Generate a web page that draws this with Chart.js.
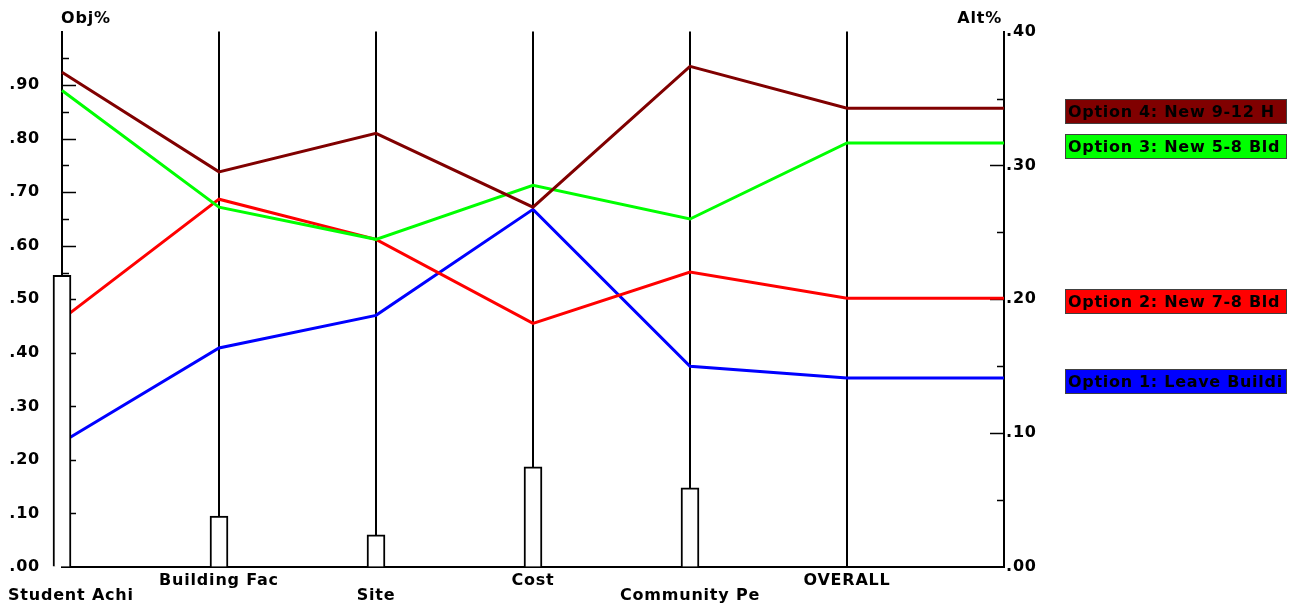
<!DOCTYPE html>
<html>
<head>
<meta charset="utf-8">
<title>Decision chart</title>
<script src="https://cdn.jsdelivr.net/npm/chart.js@4.4.0/dist/chart.umd.min.js"></script>
<style>
    html, body { margin: 0; padding: 0; background: #fff; }
    #wrap { width: 1290px; height: 603px; position: relative; }
</style>
</head>
<body>
<div id="wrap"><canvas id="decisionChart"></canvas></div>
<script>
// categories (objectives) along the bottom
const categories = ['Student Achi', 'Building Fac', 'Site', 'Cost', 'Community Pe', 'OVERALL'];
// objective weights (bars, left scale)
const objWeights = [0.545, 0.095, 0.060, 0.187, 0.148];
// alternative scores per objective (left scale), last is OVERALL
const option1 = [0.233, 0.409, 0.470, 0.668, 0.375, 0.353];
const option2 = [0.463, 0.687, 0.612, 0.455, 0.551, 0.502];
const option3 = [0.890, 0.672, 0.612, 0.713, 0.650, 0.792];
const option4 = [0.924, 0.738, 0.810, 0.672, 0.935, 0.857];
const optionNames = ['Option 1: Leave Buildi', 'Option 2: New 7-8 Bld', 'Option 3: New 5-8 Bld', 'Option 4: New 9-12 H'];
const optionColors = ['#0000ff', '#ff0000', '#00ff00', '#800000'];
// tick labels
const objTickLabels = ['.00', '.10', '.20', '.30', '.40', '.50', '.60', '.70', '.80', '.90', ''];
const altTickLabels = ['.00', '.10', '.20', '.30', '.40'];

const FONT_FAMILY = '"DejaVu Sans", sans-serif';
const LABEL_FONT = 'bold 16px ' + FONT_FAMILY;
const SPACING = '0.8px';

// x positions: the 6 objectives plus the right axis end point
const xLabels = [...categories, ''];
const extend = arr => [...arr, arr[arr.length - 1]];

const decorPlugin = {
    id: 'decor',
    beforeDraw(chart) {
        chart.ctx.letterSpacing = SPACING;
    },
    beforeDatasetsDraw(chart) {
        const { ctx, chartArea: a, scales } = chart;
        ctx.save();
        ctx.strokeStyle = '#000';
        ctx.lineWidth = 1.5;
        // inner ticks on the left axis
        for (let i = 1; i < 20; i++) {
            const y = Math.round(scales.y.getPixelForValue(i * 0.05)) + 0.5;
            const len = i % 2 === 0 ? 14 : 7;
            ctx.beginPath();
            ctx.moveTo(a.left, y);
            ctx.lineTo(a.left + len, y);
            ctx.stroke();
        }
        // inner ticks on the right axis
        for (let i = 1; i < 8; i++) {
            const y = Math.round(scales.y2.getPixelForValue(i * 5)) + 0.5;
            const len = i % 2 === 0 ? 14 : 7;
            ctx.beginPath();
            ctx.moveTo(a.right, y);
            ctx.lineTo(a.right - len, y);
            ctx.stroke();
        }
        ctx.restore();
    },
    afterDraw(chart) {
        const { ctx, chartArea: a, scales } = chart;
        ctx.save();
        ctx.letterSpacing = SPACING;
        ctx.font = LABEL_FONT;
        ctx.fillStyle = '#000';
        ctx.textBaseline = 'middle';

        // axis titles
        ctx.textAlign = 'left';
        ctx.fillText('Obj%', a.left - 1, 19);
        ctx.textAlign = 'right';
        ctx.fillText('Alt%', a.right - 2, 19);

        // staggered category labels
        ctx.textAlign = 'left';
        categories.forEach((c, i) => {
            const x = scales.x.getPixelForValue(i);
            const w = ctx.measureText(c).width;
            const left = Math.max(8, x - w / 2);
            const y = i % 2 === 0 ? a.bottom + 29 : a.bottom + 14;
            ctx.fillText(c, left, y);
        });

        // legend boxes at the overall value of each option
        const datasets = chart.data.datasets.filter(d => d.type === 'line');
        datasets.forEach(ds => {
            const last = ds.data[ds.data.length - 1];
            const yc = scales.y.getPixelForValue(last);
            const bx = 1065, by = Math.round(yc) - 9, bw = 222, bh = 25;
            ctx.fillStyle = ds.borderColor;
            ctx.fillRect(bx, by, bw, bh);
            ctx.strokeStyle = '#404040';
            ctx.lineWidth = 1;
            ctx.strokeRect(bx + 0.5, by + 0.5, bw - 1, bh - 1);
            ctx.save();
            ctx.beginPath();
            ctx.rect(bx + 1, by + 1, bw - 3, bh - 2);
            ctx.clip();
            ctx.fillStyle = '#000';
            ctx.font = 'bold 16px ' + FONT_FAMILY;
            ctx.letterSpacing = '0.7px';
            ctx.textAlign = 'left';
            ctx.fillText(ds.label, bx + 3, by + bh / 2 + 1);
            ctx.restore();
        });
        ctx.restore();
    }
};

const lineDatasets = [option4, option3, option2, option1].map((vals, k) => {
    const idx = 3 - k;
    return {
        type: 'line',
        label: optionNames[idx],
        data: extend(vals),
        borderColor: optionColors[idx],
        backgroundColor: optionColors[idx],
        borderWidth: 3,
        pointRadius: 0,
        tension: 0,
        fill: false,
        yAxisID: 'y',
        order: 1 + k
    };
});

const ctx = document.getElementById('decisionChart').getContext('2d');
new Chart(ctx, {
    type: 'line',
    data: {
        labels: xLabels,
        datasets: [
            {
                type: 'bar',
                label: 'Weight',
                data: objWeights,
                backgroundColor: '#ffffff',
                borderColor: '#000000',
                borderWidth: 2,
                barThickness: 18,
                yAxisID: 'y',
                clip: false,
                order: 0
            },
            ...lineDatasets
        ]
    },
    options: {
        responsive: true,
        maintainAspectRatio: false,
        animation: false,
        events: [],
        layout: { padding: { top: 31, left: 0, right: 0, bottom: 0 }, autoPadding: false },
        plugins: {
            legend: { display: false },
            tooltip: { enabled: false },
            title: { display: false }
        },
        scales: {
            x: {
                type: 'category',
                offset: false,
                grid: {
                    offset: false,
                    drawTicks: false,
                    lineWidth: 2,
                    color: c => (c.index > 0 && c.index < 6 ? '#000' : 'rgba(0,0,0,0)')
                },
                border: { display: true, color: '#000', width: 2 },
                ticks: { display: false },
                afterFit: s => { s.height = 36; }
            },
            y: {
                type: 'linear',
                position: 'left',
                min: 0,
                max: 1,
                grid: { drawOnChartArea: false, drawTicks: false },
                border: { display: true, color: '#000', width: 2 },
                ticks: {
                    stepSize: 0.1,
                    padding: 22,
                    color: '#000',
                    font: { family: FONT_FAMILY, size: 16, weight: 'bold' },
                    callback: (v, i) => objTickLabels[i]
                },
                afterFit: s => { s.width = 62; }
            },
            y2: {
                type: 'linear',
                position: 'right',
                min: 0,
                max: 40,
                grid: { drawOnChartArea: false, drawTicks: false },
                border: { display: true, color: '#000', width: 2 },
                ticks: {
                    stepSize: 10,
                    padding: 2,
                    color: '#000',
                    font: { family: FONT_FAMILY, size: 16, weight: 'bold' },
                    callback: (v, i) => altTickLabels[i]
                },
                afterFit: s => { s.width = 286; }
            }
        }
    },
    plugins: [decorPlugin]
});
</script>
</body>
</html>
